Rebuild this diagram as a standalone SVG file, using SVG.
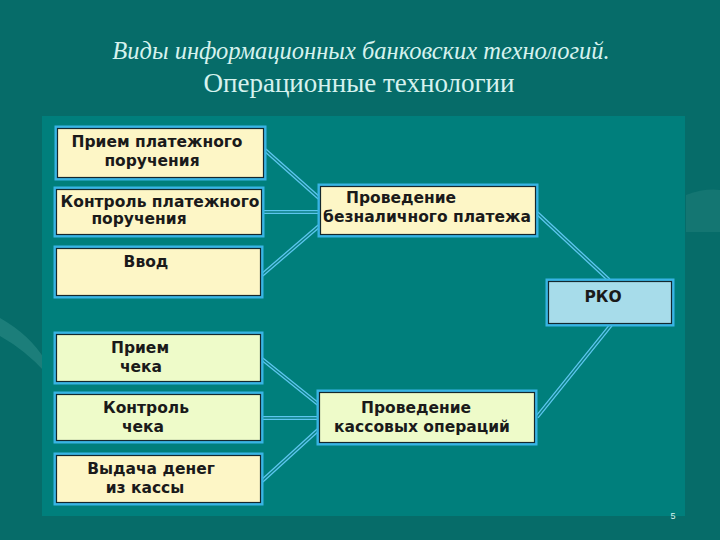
<svg xmlns="http://www.w3.org/2000/svg" width="720" height="540" viewBox="0 0 720 540">
<defs>
<style>
.title{font-family:"Liberation Serif",serif;fill:#d6f2ee;text-anchor:middle}
.t{font-family:"DejaVu Sans","Liberation Sans",sans-serif;font-weight:bold;font-size:15.5px;fill:#1a1a1a;text-anchor:middle}
.outer{fill:none;stroke:#38b4e4;stroke-width:3}
.inner{stroke:#14282e;stroke-width:1.2}
.y{fill:#fdf6c6}
.g{fill:#eefbc9}
.b{fill:#a7dcea}
.c1{stroke:#5cc6ee;stroke-width:4;fill:none}
.c2{stroke:#0a7f82;stroke-width:1.4;fill:none}
</style>
</defs>
<rect width="720" height="540" fill="#066c69"/>
<path d="M0 318 Q30 335 45 360 L45 372 Q25 350 0 336 Z" fill="#2b8a86" opacity="0.6"/>
<path d="M686 195 Q705 188 720 190 L720 232 L686 232 Z" fill="#1b7a76" opacity="0.7"/>
<rect x="42" y="116" width="643" height="400" fill="#007f7c"/>
<text class="title" x="361" y="59" font-size="24.5" font-style="italic">Виды информационных банковских технологий.</text>
<text class="title" x="359" y="92" font-size="27">Операционные технологии</text>
<g id="connectors">
<path class="c1" d="M265 150 L319 198 M263 212 L319 212 M262 275 L319 226 M537 213 L609 280 M611 325 L537 417 M262 359 L318 404 M262 418 L318 418 M262 481 L318 430"/>
<path class="c2" d="M265 150 L319 198 M263 212 L319 212 M262 275 L319 226 M537 213 L609 280 M611 325 L537 417 M262 359 L318 404 M262 418 L318 418 M262 481 L318 430"/>
</g>
<g id="n1"><rect class="outer" x="56" y="127" width="209" height="52"/><rect class="inner y" x="57.5" y="128.5" width="206" height="49"/><text class="t" x="157" y="147">Прием платежного</text><text class="t" x="152" y="166">поручения</text></g>
<g id="n2"><rect class="outer" x="55" y="188" width="208" height="48"/><rect class="inner y" x="56.5" y="189.5" width="205" height="45"/><text class="t" x="160" y="207">Контроль платежного</text><text class="t" x="139" y="224">поручения</text></g>
<g id="n3"><rect class="outer" x="55" y="247" width="207" height="50"/><rect class="inner y" x="56.5" y="248.5" width="204" height="47"/><text class="t" x="146" y="267">Ввод</text></g>
<g id="n4"><rect class="outer" x="319" y="185" width="218" height="51"/><rect class="inner y" x="320.5" y="186.5" width="215" height="48"/><text class="t" x="401" y="203">Проведение</text><text class="t" x="427" y="222">безналичного платежа</text></g>
<g id="n5"><rect class="outer" x="547" y="280" width="126" height="45"/><rect class="inner b" x="548.5" y="281.5" width="123" height="42"/><text class="t" x="603" y="302">РКО</text></g>
<g id="n6"><rect class="outer" x="55" y="333" width="207" height="50"/><rect class="inner g" x="56.5" y="334.5" width="204" height="47"/><text class="t" x="140" y="353">Прием</text><text class="t" x="141" y="372">чека</text></g>
<g id="n7"><rect class="outer" x="55" y="393" width="207" height="49"/><rect class="inner g" x="56.5" y="394.5" width="204" height="46"/><text class="t" x="146" y="413">Контроль</text><text class="t" x="143" y="432">чека</text></g>
<g id="n8"><rect class="outer" x="55" y="454" width="207" height="50"/><rect class="inner y" x="56.5" y="455.5" width="204" height="47"/><text class="t" x="151" y="474">Выдача денег</text><text class="t" x="145" y="493">из кассы</text></g>
<g id="n9"><rect class="outer" x="318" y="391" width="218" height="53"/><rect class="inner g" x="319.5" y="392.5" width="215" height="50"/><text class="t" x="416" y="413">Проведение</text><text class="t" x="422" y="432">кассовых операций</text></g>
<text x="673" y="519" font-family="Liberation Sans,sans-serif" font-size="9" fill="#d6f2ee" text-anchor="middle">5</text>
</svg>
